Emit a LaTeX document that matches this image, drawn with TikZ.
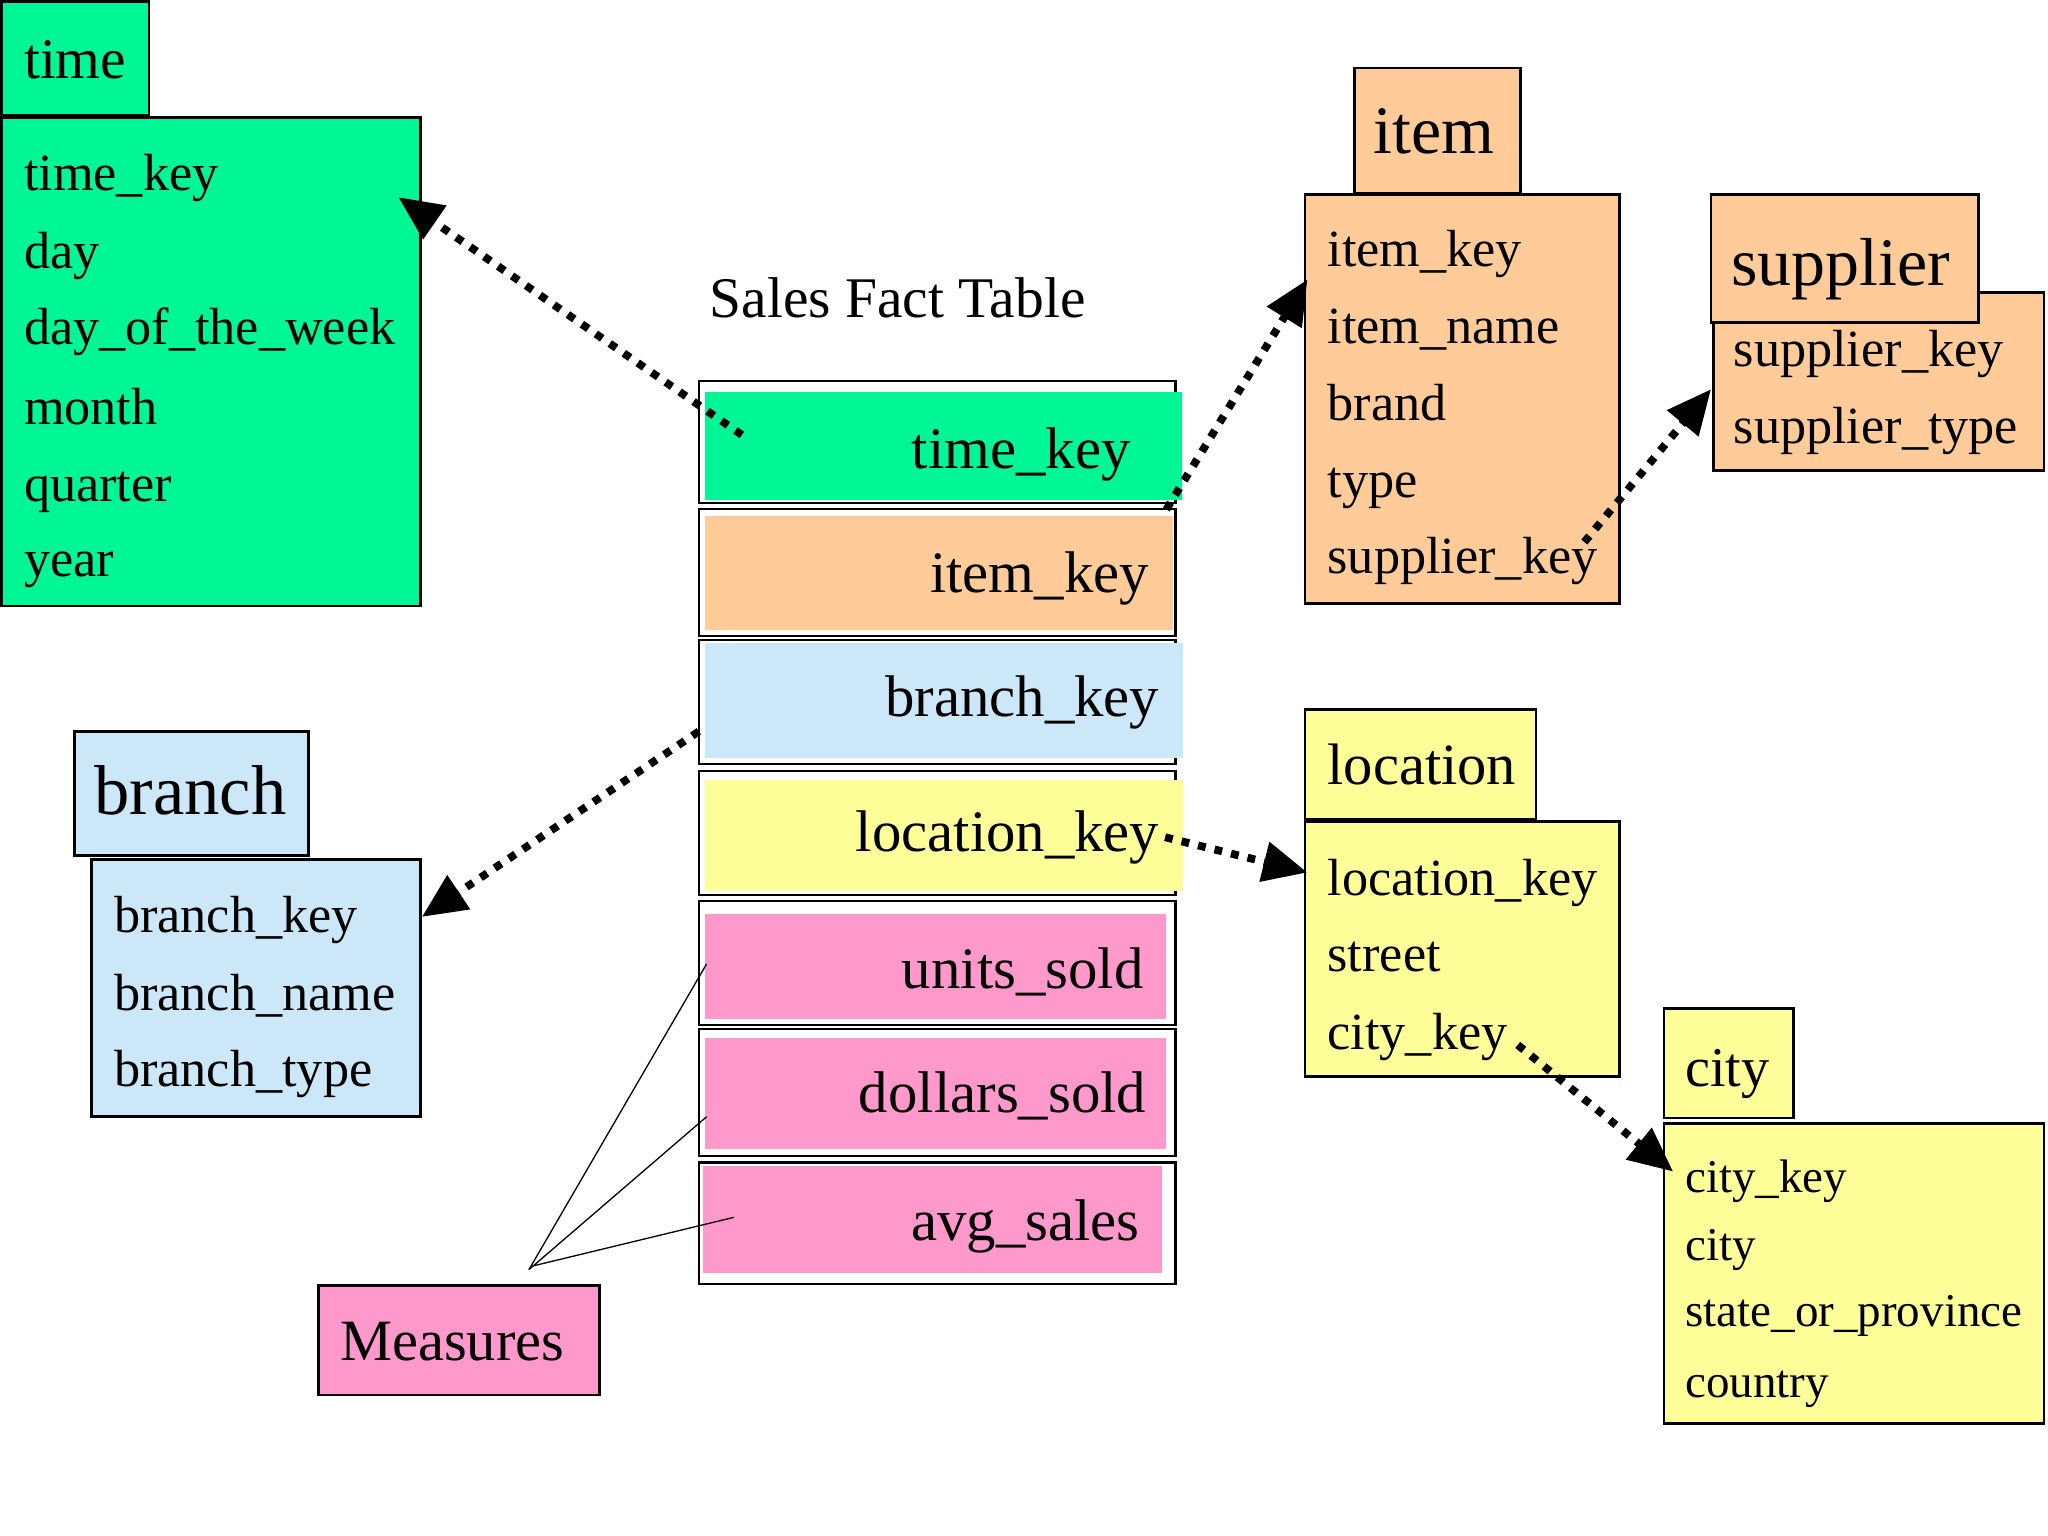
\documentclass[tikz,border=0pt]{standalone}
\usepackage{fontspec}
\setmainfont{Liberation Serif}
\usetikzlibrary{fit,arrows.meta}
\definecolor{cgreen}{HTML}{00F594}
\definecolor{corange}{HTML}{FFCC99}
\definecolor{cblue}{HTML}{CCE8F8}
\definecolor{cyellow}{HTML}{FFFF99}
\definecolor{cpink}{HTML}{FF99CC}
\begin{document}
\begin{tikzpicture}[x=0.5pt,y=-0.5pt,
  box/.style={draw=black, line width=1pt, inner sep=0pt},
  cellbox/.style={draw=black, fill=white, line width=0.8pt, inner sep=0pt},
  fillbox/.style={inner sep=0pt, draw=none},
  fld/.style={anchor=west, inner sep=0pt, yshift=-4pt, font=\fontsize{20}{24}\selectfont, text height=1.5ex, text depth=.25ex},
  cfld/.style={anchor=west, inner sep=0pt, yshift=-3.5pt, font=\fontsize{18}{22}\selectfont, text height=1.5ex, text depth=.25ex},
  hdr/.style={anchor=west, inner sep=0pt, yshift=-4pt, text height=1.5ex, text depth=.25ex},
  facttxt/.style={anchor=east, inner sep=0pt, yshift=-4pt, font=\fontsize{22.5}{27}\selectfont, text height=1.5ex, text depth=.25ex},
  fk/.style={line width=3pt, dash pattern=on 3pt off 3.5pt, -{Triangle[length=17pt,width=15pt]}},
  measline/.style={line width=0.5pt, black}
]
\useasboundingbox (0,0) rectangle (1568,1176);
\fill[white] (0,0) rectangle (1568,1176);

% ---------- time ----------
\node[box, fill=cgreen, fit={(1,1)(114,88)}] (timehdr) {};
\node[hdr, font=\fontsize{22}{26}\selectfont] (timehdrt) at (18,46) {time};
\node[box, fill=cgreen, fit={(1,90)(322,464)}] (timebody) {};
\node[fld] (t1) at (18,132) {time\_key};
\node[fld] (t2) at (18,192) {day};
\node[fld] (t3) at (18,250) {day\_of\_the\_week};
\node[fld] (t4) at (18,311) {month};
\node[fld] (t5) at (18,370) {quarter};
\node[fld] (t6) at (18,428) {year};

% ---------- fact table ----------
\node[anchor=west, inner sep=0pt, font=\fontsize{22}{26}\selectfont] (facttitle) at (543,228) {Sales Fact Table};

\node[cellbox, fit={(535,292)(900,385)}] (ftime) {};
\node[fillbox, fill=cgreen, fit={(540,300)(905,383)}] (ftimef) {};
\node[facttxt] (ftimet) at (866,345) {time\_key};

\node[cellbox, fit={(535,390)(900,487)}] (fitem) {};
\node[fillbox, fill=corange, fit={(540,395)(898,482)}] (fitemf) {};
\node[facttxt] (fitemt) at (880,440) {item\_key};

\node[cellbox, fit={(535,490)(900,585)}] (fbranch) {};
\node[fillbox, fill=cblue, fit={(540,492)(906,580)}] (fbranchf) {};
\node[facttxt] (fbrancht) at (888,535) {branch\_key};

\node[cellbox, fit={(535,590)(900,685)}] (floc) {};
\node[fillbox, fill=cyellow, fit={(540,597)(906,682)}] (flocf) {};
\node[facttxt] (floct) at (888,638) {location\_key};

\node[cellbox, fit={(535,690)(900,785)}] (funits) {};
\node[fillbox, fill=cpink, fit={(540,700)(893,780)}] (funitsf) {};
\node[facttxt] (funitst) at (876,743) {units\_sold};

\node[cellbox, fit={(535,788)(900,885)}] (fdollars) {};
\node[fillbox, fill=cpink, fit={(540,795)(893,880)}] (fdollarsf) {};
\node[facttxt] (fdollarst) at (878,838) {dollars\_sold};

\node[cellbox, fit={(535,890)(900,983)}] (favg) {};
\node[fillbox, fill=cpink, fit={(538,893)(890,975)}] (favgf) {};
\node[facttxt] (favgt) at (873,936) {avg\_sales};

% ---------- item ----------
\node[box, fill=corange, fit={(1037,52)(1164,148)}] (itemhdr) {};
\node[inner sep=0pt, yshift=-4.5pt, font=\fontsize{26}{30}\selectfont, text height=1.5ex, text depth=.25ex] (itemhdrt) at (1098,103) {item};
\node[box, fill=corange, fit={(999,149)(1240,462)}] (itembody) {};
\node[fld] (i1) at (1016,190) {item\_key};
\node[fld] (i2) at (1016,249) {item\_name};
\node[fld] (i3) at (1016,308) {brand};
\node[fld] (i4) at (1016,367) {type};
\node[fld] (i5) at (1016,425) {supplier\_key};

% ---------- supplier ----------
\node[box, fill=corange, fit={(1312,224)(1565,360)}] (supbody) {};
\node[box, fill=corange, fit={(1310,149)(1515,247)}] (suphdr) {};
\node[hdr, font=\fontsize{26}{30}\selectfont] (suphdrt) at (1325,205) {supplier};
\node[fld] (s1) at (1327,267) {supplier\_key};
\node[fld] (s2) at (1327,326) {supplier\_type};

% ---------- branch ----------
\node[box, fill=cblue, fit={(57,560)(236,655)}] (brhdr) {};
\node[hdr, font=\fontsize{27}{31}\selectfont] (brhdrt) at (72,610) {branch};
\node[box, fill=cblue, fit={(70,658)(322,855)}] (brbody) {};
\node[fld] (b1) at (87,700) {branch\_key};
\node[fld] (b2) at (87,760) {branch\_name};
\node[fld] (b3) at (87,818) {branch\_type};

% ---------- location ----------
\node[box, fill=cyellow, fit={(999,543)(1176,627)}] (lochdr) {};
\node[hdr, font=\fontsize{22.4}{26}\selectfont] (lochdrt) at (1016,587) {location};
\node[box, fill=cyellow, fit={(999,629)(1240,824)}] (locbody) {};
\node[fld] (l1) at (1016,672) {location\_key};
\node[fld] (l2) at (1016,730) {street};
\node[fld] (l3) at (1016,790) {city\_key};

% ---------- city ----------
\node[box, fill=cyellow, fit={(1274,772)(1373,856)}] (cityhdr) {};
\node[hdr, font=\fontsize{21.5}{25}\selectfont] (cityhdrt) at (1290,818) {city};
\node[box, fill=cyellow, fit={(1274,860)(1565,1090)}] (citybody) {};
\node[cfld] (c1) at (1290,900) {city\_key};
\node[cfld] (c2) at (1290,952) {city};
\node[cfld] (c3) at (1290,1003) {state\_or\_province};
\node[cfld] (c4) at (1290,1057) {country};

% ---------- measures ----------
\node[box, fill=cpink, fit={(244,984)(459,1068)}] (meas) {};
\node[hdr, font=\fontsize{22.4}{26}\selectfont] (meast) at (260,1028) {Measures};

% ---------- connector end points ----------
\coordinate (k1s) at (568,333);
\coordinate (k1e) at (305,151);
\coordinate (k2s) at (893,390);
\coordinate (k2e) at (1001,214);
\coordinate (k3s) at (1213,415);
\coordinate (k3e) at (1310,298);
\coordinate (k4s) at (535,560);
\coordinate (k4e) at (323,702);
\coordinate (k5s) at (892,641);
\coordinate (k5e) at (1001,668);
\coordinate (k6s) at (1162,800);
\coordinate (k6e) at (1281,897);
\coordinate (mtop) at (405,972);
\coordinate (mtop2) at (409,969);
\coordinate (mu) at (541,738);
\coordinate (md) at (541,855);
\coordinate (ma) at (562,932);

\draw[fk] (k1s) -- (k1e);
\draw[fk] (k2s) -- (k2e);
\draw[fk] (k3s) -- (k3e);
\draw[fk] (k4s) -- (k4e);
\draw[fk] (k5s) -- (k5e);
\draw[fk] (k6s) -- (k6e);

\draw[measline] (mtop) -- (mu);
\draw[measline] (mtop) -- (md);
\draw[measline] (mtop2) -- (ma);
\end{tikzpicture}
\end{document}
